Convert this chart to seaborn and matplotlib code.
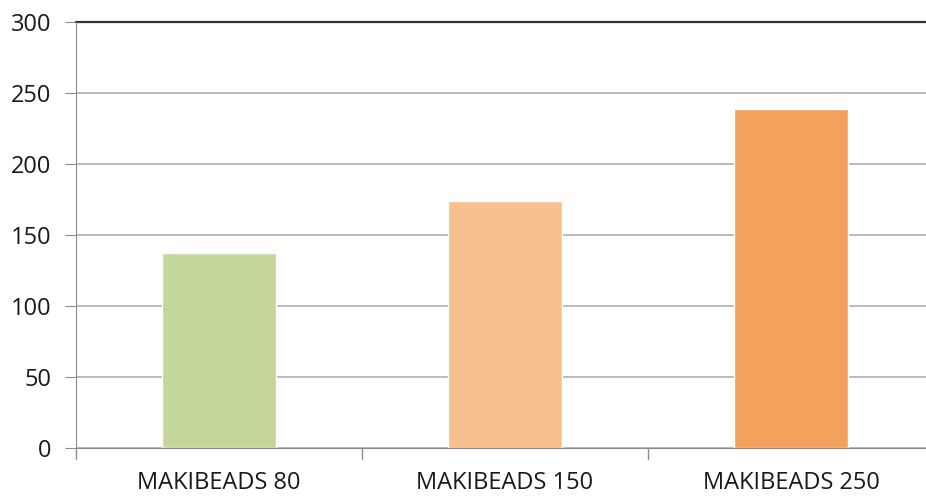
import matplotlib
matplotlib.use("Agg")
import matplotlib.pyplot as plt
import seaborn as sns
import pandas as pd

categories = ["MAKIBEADS 80", "MAKIBEADS 150", "MAKIBEADS 250"]
values = [137, 174, 239]
colors = ["#C4D79B", "#F8BF8F", "#F4A15B"]
yticks = [0, 50, 100, 150, 200, 250, 300]

sns.set_style("white")
plt.rcParams["font.family"] = ["Open Sans", "DejaVu Sans"]

df = pd.DataFrame({"cat": categories, "val": values})

fig = plt.figure(figsize=(9.26, 4.96), dpi=100)
ax = fig.add_axes([76/926, 48/496, 858/926, 426/496])

sns.barplot(data=df, x="cat", y="val", hue="cat", palette=colors, width=0.4,
            legend=False, ax=ax, saturation=1)

ax.set_xlim(-0.5, 2.5)
ax.set_ylim(0, 300)
ax.set_yticks(yticks)
ax.set_yticklabels([str(t) for t in yticks], fontsize=17, color="#1A1A1A")
ax.set_xlabel("")
ax.set_ylabel("")
ax.grid(axis="y", color="#AEAEAE", linewidth=1.2)
ax.set_axisbelow(True)

for s in ["top", "right"]:
    ax.spines[s].set_visible(False)
ax.spines["left"].set_color("#8C8C8C")
ax.spines["bottom"].set_color("#8C8C8C")
ax.axhline(300, color="#333333", linewidth=1.6, clip_on=False)

ax.tick_params(axis="y", left=True, length=8, color="#8C8C8C", pad=10)
ax.set_xticks([0, 1, 2])
ax.set_xticklabels(categories, fontsize=17, color="#1A1A1A")
ax.tick_params(axis="x", bottom=False, pad=13)
for b in [-0.5, 0.5, 1.5]:
    ax.plot([b, b], [0, -0.025], transform=ax.get_xaxis_transform(),
            color="#8C8C8C", linewidth=1, clip_on=False)

fig.savefig("out.png", dpi=100)
